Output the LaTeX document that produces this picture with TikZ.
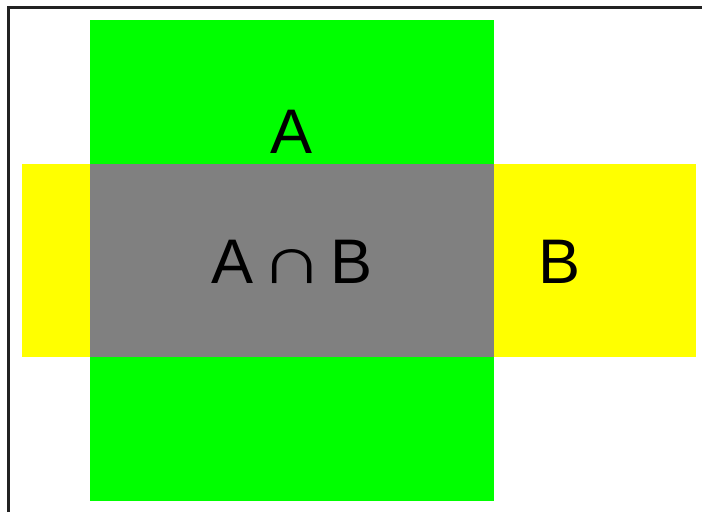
\documentclass[tikz,border=0pt]{standalone}
\usepackage{fontspec}
\usepackage{graphicx}
\setmainfont{Liberation Sans}
\definecolor{setA}{HTML}{00FF00}
\definecolor{setB}{HTML}{FFFF00}
\definecolor{setAB}{HTML}{808080}
\definecolor{frame}{HTML}{222222}
\newcommand{\capsym}{\scalebox{1.4}[1.07]{∩}}
\begin{document}
\begin{tikzpicture}[x=1pt,y=-1pt,
  setlabel/.style={anchor=base,inner sep=0pt,font=\fontsize{63}{63}\selectfont}]
  \useasboundingbox (0,0) rectangle (702,512);
  % sets
  \fill[setA] (90,20) rectangle (494,501);
  \fill[setB] (22,164) rectangle (696,357);
  \fill[setAB] (90,164) rectangle (494,357);
  % frame
  \draw[frame,line width=2.5pt] (8.5,512) -- (8.5,7.3) -- (702,7.3);
  % labels
  \node[setlabel] (labA) at (292,153) {A};
  \node[setlabel] (labAB) at (292,283) {A\hspace{6.5pt}\capsym\hspace{7pt}B};
  \node[setlabel] (labB) at (560,283) {B};
\end{tikzpicture}
\end{document}
